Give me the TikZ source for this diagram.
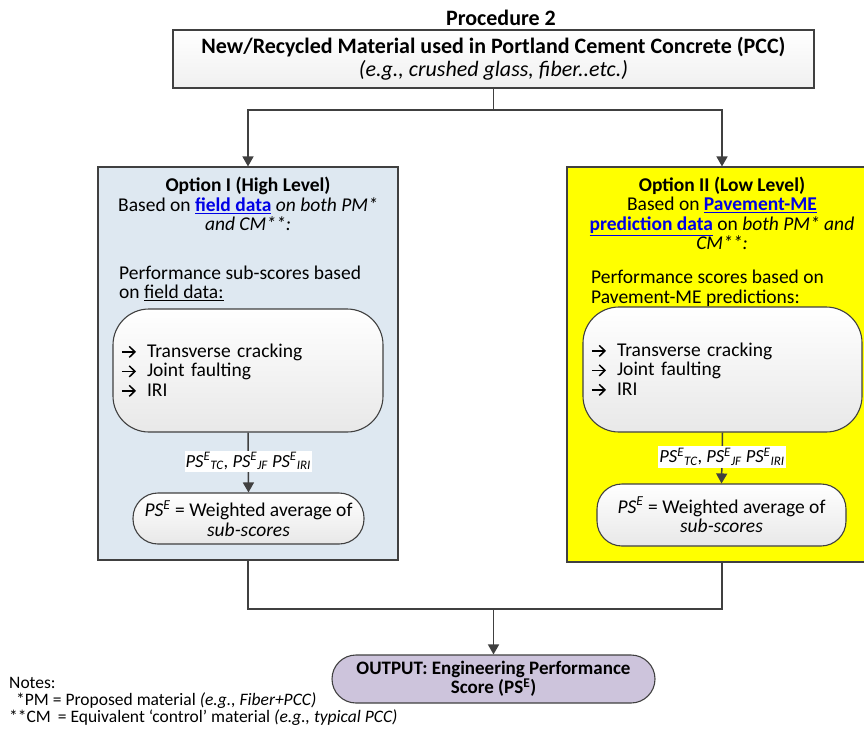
\documentclass[tikz,border=0pt]{standalone}
\usepackage{fontspec}
\setmainfont{Carlito}
\usetikzlibrary{arrows.meta,calc}

\definecolor{edge}{HTML}{404040}
\definecolor{paleblue}{HTML}{DEE8F1}
\definecolor{brightyellow}{HTML}{FFFF00}
\definecolor{lavender}{HTML}{CDC4DC}
\definecolor{linkblue}{HTML}{0000E6}

\newcommand{\lnk}[1]{\textcolor{linkblue}{\textbf{\underline{#1}}}}
% bullet arrow drawn as a small inline picture
\newcommand{\itemarrow}{\makebox[26pt][l]{\tikz[x=1pt,y=1pt,baseline=0pt,sharp corners]{%
  \draw[draw=black, line width=1.5pt, line cap=butt, sharp corners] (0,5.5) -- (13,5.5);
  \draw[draw=black, line width=1.5pt, line join=miter, sharp corners] (7.5,11) -- (13.2,5.5) -- (7.5,0);}}}
\newcommand{\psx}[1]{\textit{PS\textsuperscript{E}\textsubscript{#1}}}

\tikzset{
  panel/.style={draw=edge, line width=1.1pt, minimum width=#1, inner sep=0pt},
  listbox/.style={draw=edge, line width=1.1pt, rounded corners=36pt,
    top color=white, bottom color=black!9, inner xsep=8pt, align=left},
  pillbox/.style={draw=edge, line width=1.1pt, rounded corners=25pt,
    top color=white, bottom color=black!9, align=center, inner sep=0pt},
  conn/.style={draw=edge, line width=1.5pt},
  arrow/.style={conn, -{Triangle[length=10pt,width=11pt]}},
  flowlabel/.style={fill=white, inner xsep=1pt, inner ysep=2pt, font=\fontsize{18.5}{18.5}\selectfont},
}

\begin{document}
\begin{tikzpicture}[x=1pt, y=-1pt, font=\fontsize{19.5}{19.5}\selectfont]
\useasboundingbox (0,0) rectangle (864,728);

% heading and source material box
\node[font=\fontsize{22}{22}\selectfont\bfseries] (proc) at (501,18) {Procedure 2};
\node[draw=edge, line width=1.1pt, top color=white, bottom color=black!6,
      minimum width=641pt, minimum height=58pt, align=center, inner sep=0pt,
      font=\fontsize{22}{23}\selectfont]
  (mat) at (493.5,59)
  {\textbf{New/Recycled Material used in Portland Cement Concrete (PCC)}\\
   \textit{(e.g., crushed glass, fiber..etc.)}};

% the two option panels
\node[panel=300pt, minimum height=393pt, fill=paleblue] (optI) at (248,363.5) {};
\node[panel=310pt, minimum height=395pt, fill=brightyellow] (optII) at (722,364.5) {};

% Option I contents
\node[align=center] (headI) at (248,204)
  {\textbf{Option I (High Level)}\\
   Based on \lnk{field data} \textit{on both PM*}\\
   \textit{and CM**:}};
\node[align=left, anchor=west, inner sep=0pt] (subI) at (119,283.5)
  {Performance sub-scores based\\on \underline{field data:}};
\node[listbox, minimum width=270pt, minimum height=123pt, text width=254pt]
  (listI) at (248,370.5)
  {\itemarrow Transverse cracking\\\itemarrow Joint faulting\\\itemarrow IRI};
\node[pillbox, minimum width=231pt, minimum height=51pt] (sumI) at (248.5,518.5)
  {\textit{PS}\textsuperscript{\textit{E}} = Weighted average of\\\textit{sub-scores}};

% Option II contents
\node[align=center] (headII) at (722,213.5)
  {\textbf{Option II (Low Level)}\\
   Based on \lnk{Pavement-ME}\\
   \lnk{prediction data} on \textit{both PM* and}\\
   \textit{CM**:}};
\node[align=left, anchor=west, inner sep=0pt] (subII) at (591,288.5)
  {Performance scores based on\\Pavement-ME predictions:};
\node[listbox, minimum width=279pt, minimum height=125pt, text width=263pt]
  (listII) at (722.5,369.5)
  {\itemarrow Transverse cracking\\\itemarrow Joint faulting\\\itemarrow IRI};
\node[pillbox, minimum width=249pt, minimum height=62pt] (sumII) at (721.5,515)
  {\textit{PS}\textsuperscript{\textit{E}} = Weighted average of\\\textit{sub-scores}};

% output
\node[draw=edge, line width=1.1pt, rounded corners=24pt, fill=lavender,
      minimum width=323pt, minimum height=48pt, align=center, inner sep=0pt,
      font=\fontsize{19}{16.5}\selectfont\bfseries]
  (out) at (493.5,679)
  {OUTPUT: Engineering Performance\\Score (PS\textsuperscript{E})};

% connectors
\coordinate (split) at (493.5,110);
\coordinate (merge) at (493.5,609);
\draw[arrow] (mat.south) -- (split) -| (optI.north);
\draw[arrow] (split) -| (optII.north);
\draw[arrow] (listI.south) -- (sumI.north)
  node[flowlabel, pos=0.48] (lblI) {\psx{TC}, \psx{JF} \psx{IRI}};
\draw[arrow] (listII.south) -- (sumII.north)
  node[flowlabel, pos=0.48] (lblII) {\psx{TC}, \psx{JF} \psx{IRI}};
\draw[conn] (optI.south) |- (merge);
\draw[conn] (optII.south) |- (merge);
\draw[arrow] (merge) -- (out.north);

% notes
\node[align=left, anchor=west, inner sep=0pt, font=\fontsize{17.5}{17}\selectfont]
  (notes) at (9,701)
  {Notes:\\
   \hspace{7pt}*PM = Proposed material \textit{(e.g., Fiber+PCC)}\\
   **CM\hspace{3pt} = Equivalent ‘control’ material \textit{(e.g., typical PCC)}};
\end{tikzpicture}
\end{document}
